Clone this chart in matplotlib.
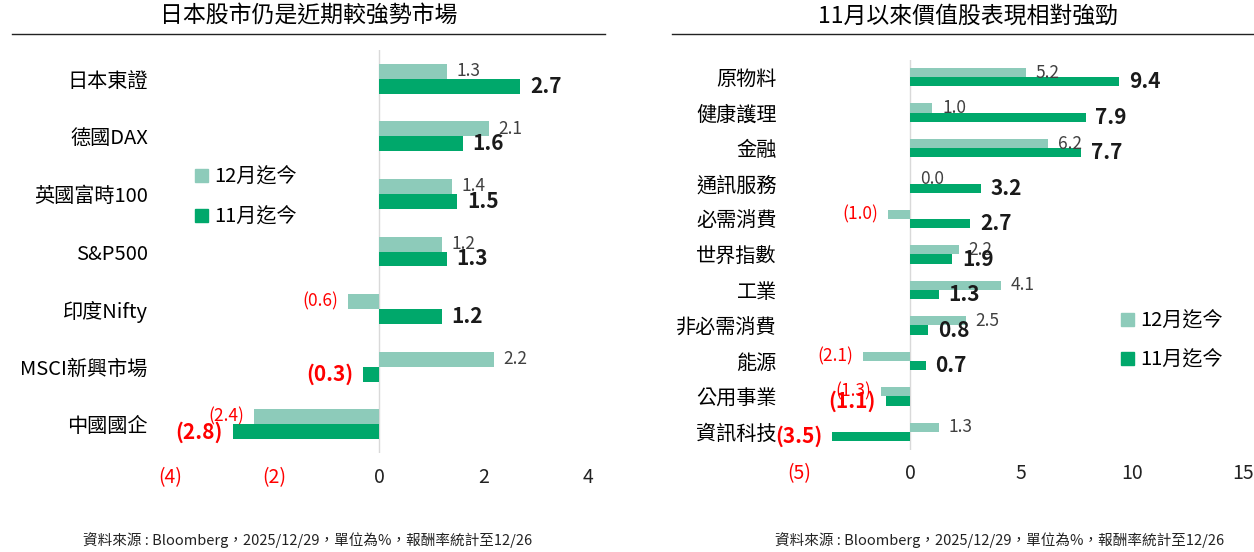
import numpy as np
import matplotlib
matplotlib.use('Agg')
import matplotlib.pyplot as plt
from matplotlib.patches import Rectangle
from matplotlib.lines import Line2D
from matplotlib.transforms import ScaledTranslation

plt.rcParams['font.family'] = ['Noto Sans CJK TC', 'DejaVu Sans']

# 資料
markets = ['日本東證', '德國DAX', '英國富時100', 'S&P500', '印度Nifty', 'MSCI新興市場', '中國國企']
markets_dec = [1.3, 2.1, 1.4, 1.2, -0.6, 2.2, -2.4]
markets_nov = [2.7, 1.6, 1.5, 1.3, 1.2, -0.3, -2.8]
markets_ticks = [-4, -2, 0, 2, 4]

sectors = ['原物料', '健康護理', '金融', '通訊服務', '必需消費', '世界指數', '工業',
           '非必需消費', '能源', '公用事業', '資訊科技']
sectors_dec = [5.2, 1.0, 6.2, 0.0, -1.0, 2.2, 4.1, 2.5, -2.1, -1.3, 1.3]
sectors_nov = [9.4, 7.9, 7.7, 3.2, 2.7, 1.9, 1.3, 0.8, 0.7, -1.1, -3.5]
sectors_ticks = [-5, 0, 5, 10, 15]

series_names = ['12月迄今', '11月迄今']
titles = ['日本股市仍是近期較強勢市場', '11月以來價值股表現相對強勁']
note = '資料來源 : Bloomberg，2025/12/29，單位為%，報酬率統計至12/26'

LIGHT = '#8DCBBA'
DARK = '#00A86B'
RED = '#FF0000'
W, H = 1254, 552


def fmt(v, dec=1):
    if v < 0:
        return '(' + format(abs(v), '.%df' % dec) + ')'
    return format(v, '.%df' % dec)


def draw(ax, cats, dec, nov, ticks):
    n = len(cats)
    y = np.arange(n)
    h = 0.26
    ax.barh(y - h / 2, dec, height=h, color=LIGHT, zorder=2)
    ax.barh(y + h / 2, nov, height=h, color=DARK, zorder=2)
    ax.set_ylim(n - 0.5, -0.5)
    ax.set_xlim(ticks[0], ticks[-1])
    ax.set_xticks(ticks)
    ax.set_xticklabels([fmt(t, 0) for t in ticks])
    for lbl, t in zip(ax.get_xticklabels(), ticks):
        lbl.set_color(RED if t < 0 else '#222222')
    ax.set_yticks(y)
    ax.set_yticklabels(cats)
    # 類別標籤稍微上移
    for lbl in ax.get_yticklabels():
        lbl.set_transform(lbl.get_transform() + ScaledTranslation(0, 2 / 72, fig.dpi_scale_trans))
    ax.tick_params(axis='y', length=0, pad=16, labelsize=14.5, labelcolor='#000000')
    ax.tick_params(axis='x', length=0, pad=10, labelsize=14)
    for s in ax.spines.values():
        s.set_visible(False)
    ax.axvline(0, color='#D9D9D9', lw=1, zorder=1)

    # 數字標籤
    for yi, v in zip(y, dec):
        ax.annotate(fmt(v), (v, yi - h / 2), xytext=(7 if v >= 0 else -7, 0),
                    textcoords='offset points', ha='left' if v >= 0 else 'right',
                    va='center', fontsize=12.5, fontweight='light',
                    color=RED if v < 0 else '#404040')
    for yi, v in zip(y, nov):
        ax.annotate(fmt(v), (v, yi + h / 2), xytext=(7 if v >= 0 else -7, 0),
                    textcoords='offset points', ha='left' if v >= 0 else 'right',
                    va='center', fontsize=15, fontweight='bold',
                    color=RED if v < 0 else '#1a1a1a')


def legend(fig, x, y, gap):
    for i, (c, t) in enumerate(zip([LIGHT, DARK], series_names)):
        yy = y + i * gap
        fig.patches.append(Rectangle((x / W, 1 - (yy + 6.5) / H), 13 / W, 13 / H,
                                     transform=fig.transFigure, color=c))
        fig.text((x + 19) / W, 1 - yy / H, t, va='center_baseline', fontsize=14.5,
                 color='#000000')


fig = plt.figure(figsize=(W / 100, H / 100), dpi=100)

ax1 = fig.add_axes([170 / W, 1 - 453 / H, 418 / W, 403 / H])
draw(ax1, markets, markets_dec, markets_nov, markets_ticks)

ax2 = fig.add_axes([799 / W, 1 - 449.5 / H, 444.5 / W, 390 / H])
draw(ax2, sectors, sectors_dec, sectors_nov, sectors_ticks)

# 標題與分隔線
fig.text(309 / W, 1 - 14 / H, titles[0], ha='center', va='center_baseline', fontsize=16.5,
         color='#000000')
fig.text(968 / W, 1 - 14 / H, titles[1], ha='center', va='center_baseline', fontsize=16.5,
         color='#000000')
fig.add_artist(Line2D([12 / W, 605 / W], [1 - 34 / H] * 2, color='#222222', lw=1))
fig.add_artist(Line2D([672 / W, 1254 / W], [1 - 34 / H] * 2, color='#222222', lw=1))

legend(fig, 195, 175, 40)
legend(fig, 1121, 319, 39)

fig.text(308 / W, 1 - 540 / H, note, ha='center', va='center', fontsize=10.5, color='#222222')
fig.text(1000 / W, 1 - 540 / H, note, ha='center', va='center', fontsize=10.5, color='#222222')

fig.savefig('out.png', dpi=100)
